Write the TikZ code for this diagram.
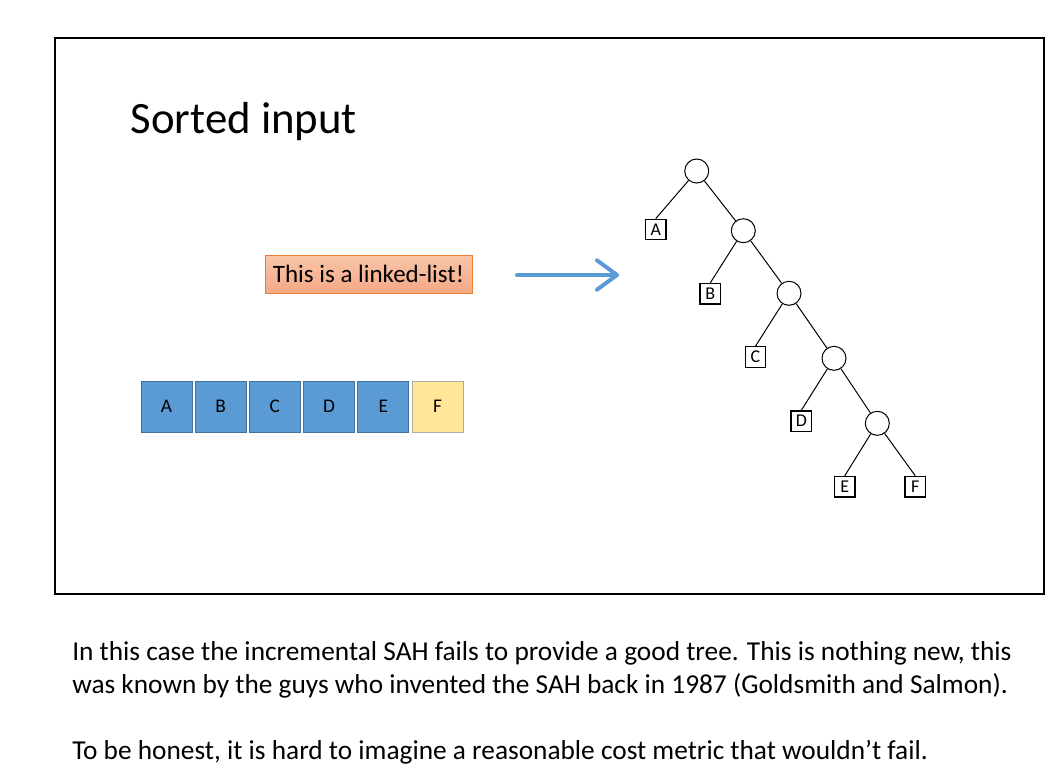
\documentclass[tikz,border=0pt]{standalone}
\usepackage{fontspec}
\setmainfont{Carlito}
\usetikzlibrary{arrows.meta}
\definecolor{boxblue}{HTML}{5B9BD5}
\definecolor{boxblueline}{HTML}{41719C}
\definecolor{boxyellow}{HTML}{FFE699}
\definecolor{boxyellowline}{HTML}{A9AFA0}
\definecolor{salmontop}{HTML}{F9C5A9}
\definecolor{salmonbot}{HTML}{F4A886}
\definecolor{orangeline}{HTML}{ED7D31}
\definecolor{arrowblue}{HTML}{5B9BD5}
\tikzset{
  listbox/.style={draw=boxblueline, fill=boxblue, line width=0.75pt, minimum width=38.25pt, minimum height=38.25pt, inner sep=0pt, font=\fontsize{14.5}{16}\selectfont},
  lastbox/.style={listbox, draw=boxyellowline, fill=boxyellow},
  inner/.style={draw, circle, minimum size=18pt, inner sep=0pt, line width=0.75pt, fill=white},
  leaf/.style={draw, rectangle, minimum width=15.4pt, minimum height=15.4pt, inner sep=0pt, line width=0.9pt, font=\fontsize{13.5}{14}\selectfont},
  edge/.style={line width=0.75pt},
  note/.style={font=\fontsize{20.5}{24}\selectfont, anchor=base west, inner sep=0pt},
}
\begin{document}
\begin{tikzpicture}[x=0.75pt, y=-0.75pt]
\useasboundingbox (0,0) rectangle (1063,776);
% slide frame
\draw[line width=1.5pt] (55,38) rectangle (1044,594);
% title
\node[anchor=base west, inner sep=0pt, font=\fontsize{33.6}{38}\selectfont] (title) at (130.5,133) {Sorted input};
% linked list label
\node[draw=orangeline, line width=0.75pt, top color=salmontop, bottom color=salmonbot, minimum width=155.25pt, minimum height=28.5pt, inner sep=0pt, font=\fontsize{18.75}{22}\selectfont] (ll) at (368.5,274) {This is a linked-list!};
% arrow
\coordinate (as) at (517,275);
\coordinate (ae) at (619,275);
\draw[arrowblue, line width=3pt, line cap=round, -{Straight Barb[length=15pt, width=22pt, line cap=round, line join=round]}] (as) -- (ae);
% list boxes
\node[listbox] (lA) at (166.5,406.5) {A};
\node[listbox] (lB) at (220.7,406.5) {B};
\node[listbox] (lC) at (274.9,406.5) {C};
\node[listbox] (lD) at (329.1,406.5) {D};
\node[listbox] (lE) at (383.3,406.5) {E};
\node[lastbox] (lF) at (437.5,406.5) {F};
% tree
\node[inner] (c1) at (696.7,171) {};
\node[inner] (c2) at (743.3,230.7) {};
\node[inner] (c3) at (789,293.3) {};
\node[inner] (c4) at (834,358.3) {};
\node[inner] (c5) at (877.3,423.3) {};
\node[leaf] (tA) at (655.7,229.5) {A};
\node[leaf] (tB) at (710.3,293.7) {B};
\node[leaf] (tC) at (755.5,357) {C};
\node[leaf] (tD) at (801.3,421.2) {D};
\node[leaf] (tE) at (844.7,486.7) {E};
\node[leaf] (tF) at (915.3,486.7) {F};
\draw[edge] (c1) -- (tA.north);
\draw[edge] (c1) -- (c2);
\draw[edge] (c2) -- (tB.north);
\draw[edge] (c2) -- (c3);
\draw[edge] (c3) -- (tC.north);
\draw[edge] (c3) -- (c4);
\draw[edge] (c4) -- (tD.north);
\draw[edge] (c4) -- (c5);
\draw[edge] (c5) -- (tE.north);
\draw[edge] (c5) -- (tF.north);
% notes
\node[note] (n1) at (72,660) {In this case the incremental SAH fails to provide a good tree. This is nothing new, this};
\node[note] (n2) at (72,693.3) {was known by the guys who invented the SAH back in 1987 (Goldsmith and Salmon).};
\node[note] (n3) at (72,759) {To be honest, it is hard to imagine a reasonable cost metric that wouldn’t fail.};
\end{tikzpicture}
\end{document}
